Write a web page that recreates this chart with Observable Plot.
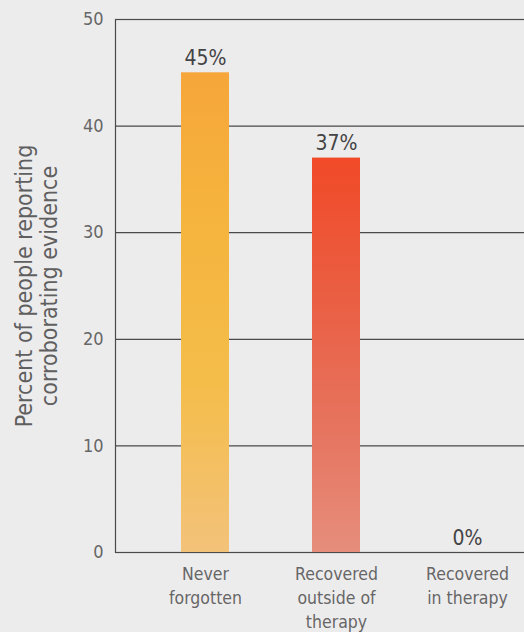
<!DOCTYPE html>
<html>
<head>
<meta charset="utf-8">
<script src="https://cdn.jsdelivr.net/npm/d3@7"></script>
<script src="https://cdn.jsdelivr.net/npm/@observablehq/plot@0.6"></script>
<style>
  html, body { margin: 0; padding: 0; background: #edeced; }
  #chart { width: 524px; height: 632px; }
  svg { font-family: "Liberation Sans Narrow", "DejaVu Sans Condensed", "Roboto", sans-serif; }
</style>
</head>
<body>
<div id="chart"></div>
<script>
const categories = ["Never forgotten", "Recovered outside of therapy", "Recovered in therapy"];
const categoryLabels = ["Never\nforgotten", "Recovered\noutside of\ntherapy", "Recovered\nin therapy"];
const values = [45, 37, 0];
const valueLabels = ["45%", "37%", "0%"];
const yTicks = [0, 10, 20, 30, 40, 50];
const gridTicks = [10, 20, 30, 40, 50];
const yLabel = "Percent of people reporting\ncorroborating evidence";

const barFills = ["url(#gradA)", "url(#gradB)", "none"];
const data = categories.map((c, i) => ({category: c, value: values[i], label: valueLabels[i], fill: barFills[i]}));

const chart = Plot.plot({
  width: 524,
  height: 632,
  marginTop: 19,
  marginBottom: 80,
  marginLeft: 115,
  marginRight: 0,
  style: {background: "transparent", overflow: "visible"},
  x: {domain: categories, range: [138, 533], paddingInner: 0.635, paddingOuter: 0.3175, align: 0.5},
  y: {domain: [0, 50]},
  color: {type: "identity"},
  marks: [
    Plot.ruleY(gridTicks, {stroke: "#4a4a4a", strokeWidth: 1.2}),
    Plot.frame({stroke: "#4a4a4a", strokeWidth: 1.2, insetRight: -6}),
    Plot.barY(data, {x: "category", y: "value", fill: "fill"}),
    Plot.text(data, {x: "category", y: "value", text: "label", dy: -8, lineAnchor: "bottom", fill: "#444", fontSize: 21}),
    Plot.axisY({ticks: yTicks, tickSize: 0, tickPadding: 12, fontSize: 18, color: "#666", label: null}),
    Plot.axisX({tickSize: 0, tickPadding: 11, fontSize: 17.5, color: "#666", lineHeight: 1.35, label: null,
      tickFormat: (d) => categoryLabels[categories.indexOf(d)]}),
    Plot.text([yLabel], {frameAnchor: "left", textAnchor: "middle", lineAnchor: "middle", dx: -79, rotate: -90,
      fontSize: 23, fill: "#5f5f5f", lineHeight: 1.1, fontWeight: 500})
  ]
});

const defs = d3.create("svg:defs");
const gA = defs.append("linearGradient").attr("id", "gradA").attr("x1", 0).attr("y1", 0).attr("x2", 0).attr("y2", 1);
[["0%", "#f6a63a"], ["30%", "#f5b43d"], ["65%", "#f4bd4a"], ["100%", "#f3c27a"]].forEach(([o, c]) =>
  gA.append("stop").attr("offset", o).attr("stop-color", c));
const gB = defs.append("linearGradient").attr("id", "gradB").attr("x1", 0).attr("y1", 0).attr("x2", 0).attr("y2", 1);
[["0%", "#f14a28"], ["35%", "#ea5e42"], ["70%", "#e67560"], ["100%", "#e68e7c"]].forEach(([o, c]) =>
  gB.append("stop").attr("offset", o).attr("stop-color", c));
chart.insertBefore(defs.node(), chart.firstChild);

document.getElementById("chart").appendChild(chart);
</script>
</body>
</html>
